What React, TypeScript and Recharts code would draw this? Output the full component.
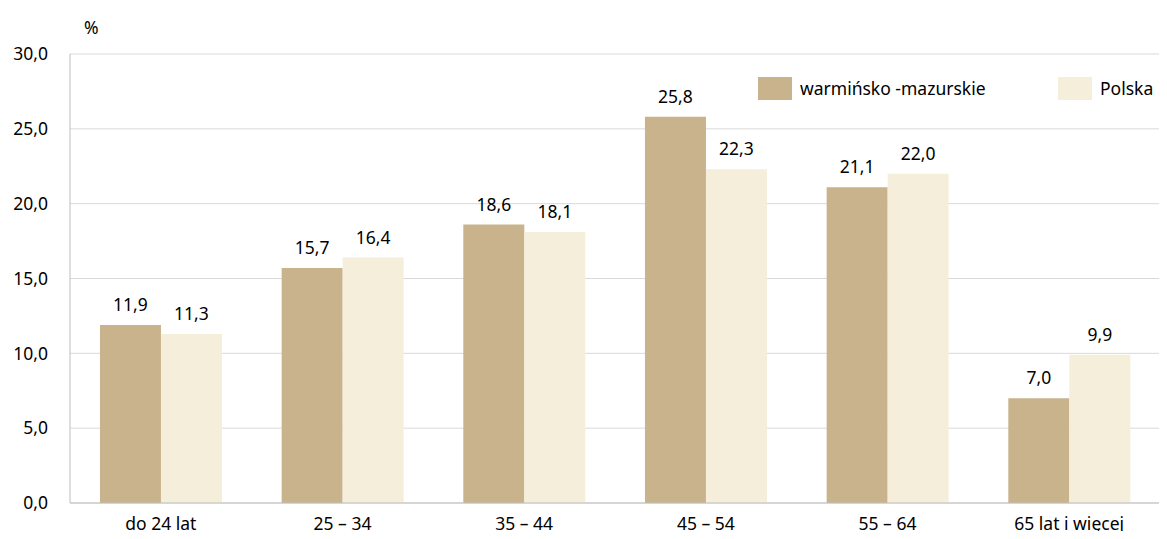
import { BarChart, Bar, XAxis, YAxis, CartesianGrid, LabelList } from "recharts";

const categories = ["do 24 lat", "25 – 34", "35 – 44", "45 – 54", "55 – 64", "65 lat i więcej"];
const warminsko = [11.9, 15.7, 18.6, 25.8, 21.1, 7.0];
const polska = [11.3, 16.4, 18.1, 22.3, 22.0, 9.9];
const yTicks = [0, 5, 10, 15, 20, 25, 30];

const data = categories.map((c, i) => ({ name: c, wm: warminsko[i], pl: polska[i] }));

const FONT = "'Noto Sans', sans-serif";
const FS = 17.5;
const fmt = (v: any) => Number(v).toFixed(1).replace(".", ",");

function LegendBox() {
  const item = (color: string, text: string, w: number) => (
    <div style={{ display: "flex", alignItems: "center", width: w }}>
      <div style={{ width: 34, height: 23, background: color, marginRight: 8 }} />
      <span style={{ fontSize: FS, color: "#000", fontFamily: FONT }}>{text}</span>
    </div>
  );
  return (
    <div style={{ position: "absolute", left: 758, top: 76, display: "flex" }}>
      {item("#c9b38c", "warmińsko -mazurskie", 300)}
      {item("#f4eedb", "Polska", 100)}
    </div>
  );
}

export default function App() {
  return (
    <div style={{ margin: -8, position: "relative", width: 1167, height: 539, background: "#fff" }}>
      <div style={{ position: "absolute", left: 84, top: 15, fontSize: FS, fontFamily: FONT }}>%</div>
      <BarChart
        width={1167}
        height={539}
        data={data}
        margin={{ top: 54, right: 7, bottom: 0, left: 0 }}
        barCategoryGap="16.5%"
        barGap={0}
      >
        <CartesianGrid vertical={false} stroke="#d9d9d9" />
        <XAxis
          dataKey="name"
          height={36}
          tickLine={false}
          axisLine={{ stroke: "#bfbfbf" }}
          tickMargin={9}
          tick={{ fontSize: FS, fill: "#000", fontFamily: FONT }}
          interval={0}
        />
        <YAxis
          width={70}
          domain={[0, 30]}
          ticks={yTicks}
          tickFormatter={fmt}
          tickLine={false}
          axisLine={{ stroke: "#bfbfbf" }}
          tickMargin={16}
          tick={{ fontSize: FS, fill: "#000", fontFamily: FONT }}
        />
        <Bar dataKey="wm" fill="#c9b38c" isAnimationActive={false}>
          <LabelList dataKey="wm" position="top" offset={14} formatter={fmt} style={{ fontSize: FS, fill: "#000", fontFamily: FONT }} />
        </Bar>
        <Bar dataKey="pl" fill="#f4eedb" isAnimationActive={false}>
          <LabelList dataKey="pl" position="top" offset={14} formatter={fmt} style={{ fontSize: FS, fill: "#000", fontFamily: FONT }} />
        </Bar>
      </BarChart>
      <LegendBox />
    </div>
  );
}
